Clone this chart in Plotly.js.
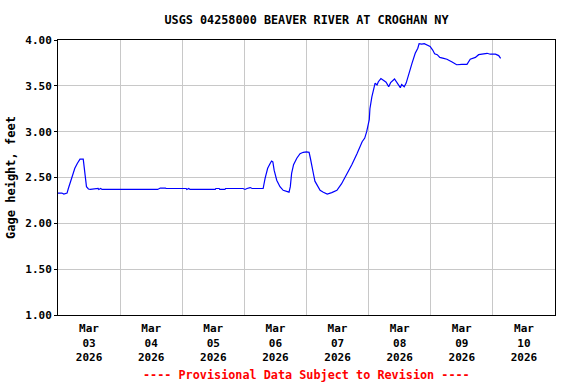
<!DOCTYPE html>
<html>
<head>
<meta charset="utf-8">
<script src="https://cdn.plot.ly/plotly-3.0.1.min.js"></script>
<style>html,body{margin:0;padding:0;background:#fff;}#chart{width:576px;height:384px;}</style>
</head>
<body>
<div id="chart"></div>
<script>
var chartTitle = "USGS 04258000 BEAVER RIVER AT CROGHAN NY";
var yTitle = "Gage height, feet";
var footerText = "---- Provisional Data Subject to Revision ----";

var times = [
"2026-03-03 00:00","2026-03-03 01:30","2026-03-03 02:15","2026-03-03 03:30","2026-03-03 04:00",
"2026-03-03 05:15","2026-03-03 06:30","2026-03-03 07:30","2026-03-03 08:30","2026-03-03 09:45",
"2026-03-03 10:30","2026-03-03 11:00","2026-03-03 11:45","2026-03-03 12:30","2026-03-03 15:30",
"2026-03-03 15:45","2026-03-03 16:30","2026-03-03 17:00","2026-03-04 14:30","2026-03-04 15:30",
"2026-03-04 17:30","2026-03-04 17:45","2026-03-05 01:30","2026-03-05 01:45","2026-03-05 02:30",
"2026-03-05 03:00","2026-03-05 12:45","2026-03-05 13:00","2026-03-05 14:15","2026-03-05 14:30",
"2026-03-05 16:30","2026-03-05 16:45","2026-03-05 23:30","2026-03-06 00:15","2026-03-06 01:00",
"2026-03-06 02:15","2026-03-06 03:00","2026-03-06 07:15","2026-03-06 08:00","2026-03-06 09:00",
"2026-03-06 10:00","2026-03-06 10:30","2026-03-06 11:00","2026-03-06 11:30","2026-03-06 12:30",
"2026-03-06 13:45","2026-03-06 15:00","2026-03-06 16:30","2026-03-06 17:15","2026-03-06 17:45",
"2026-03-06 18:15","2026-03-06 19:00","2026-03-06 20:15","2026-03-06 21:30","2026-03-06 22:45",
"2026-03-07 00:00","2026-03-07 01:00","2026-03-07 01:30","2026-03-07 02:00","2026-03-07 02:45",
"2026-03-07 03:15","2026-03-07 04:15","2026-03-07 05:15","2026-03-07 06:30","2026-03-07 08:00",
"2026-03-07 09:45","2026-03-07 11:45","2026-03-07 13:30","2026-03-07 15:30","2026-03-07 17:30",
"2026-03-07 19:30","2026-03-07 21:30","2026-03-07 22:30","2026-03-07 23:15","2026-03-08 00:15",
"2026-03-08 00:30","2026-03-08 01:15","2026-03-08 02:00","2026-03-08 02:30","2026-03-08 03:15",
"2026-03-08 03:45","2026-03-08 04:45","2026-03-08 05:45","2026-03-08 06:45","2026-03-08 07:45",
"2026-03-08 08:30","2026-03-08 10:00","2026-03-08 11:00","2026-03-08 12:15","2026-03-08 12:45",
"2026-03-08 13:45","2026-03-08 14:30","2026-03-08 15:30","2026-03-08 16:45","2026-03-08 18:00",
"2026-03-08 19:00","2026-03-08 19:30","2026-03-08 20:30","2026-03-08 21:30","2026-03-08 22:30",
"2026-03-08 23:45","2026-03-09 00:45","2026-03-09 01:30","2026-03-09 02:30","2026-03-09 03:30",
"2026-03-09 05:00","2026-03-09 06:15","2026-03-09 08:15","2026-03-09 10:00","2026-03-09 12:00",
"2026-03-09 14:00","2026-03-09 15:15","2026-03-09 17:15","2026-03-09 18:30","2026-03-09 20:30",
"2026-03-09 21:45","2026-03-09 23:00","2026-03-10 01:00","2026-03-10 02:15","2026-03-10 03:00"
];

var gageHeight = [
2.33,2.33,2.32,2.33,2.38,
2.49,2.60,2.655,2.70,2.70,
2.51,2.40,2.375,2.37,2.38,
2.37,2.38,2.37,2.37,2.385,
2.385,2.38,2.38,2.37,2.38,
2.37,2.37,2.38,2.38,2.37,
2.37,2.38,2.38,2.37,2.38,
2.39,2.38,2.38,2.49,2.60,
2.655,2.68,2.67,2.58,2.47,
2.40,2.36,2.345,2.34,2.40,
2.545,2.64,2.71,2.76,2.775,
2.78,2.775,2.71,2.62,2.53,
2.46,2.41,2.36,2.34,2.32,
2.335,2.36,2.43,2.53,2.64,
2.76,2.89,2.93,3.00,3.13,
3.25,3.38,3.47,3.53,3.51,
3.545,3.58,3.556,3.54,3.49,
3.535,3.575,3.53,3.48,3.515,
3.49,3.53,3.64,3.745,3.855,
3.91,3.96,3.955,3.96,3.945,
3.93,3.89,3.85,3.84,3.81,
3.80,3.79,3.76,3.73,3.735,
3.735,3.79,3.81,3.84,3.845,
3.855,3.845,3.845,3.83,3.80
];

var tickDates = ["2026-03-03 12:00","2026-03-04 12:00","2026-03-05 12:00","2026-03-06 12:00",
                 "2026-03-07 12:00","2026-03-08 12:00","2026-03-09 12:00","2026-03-10 12:00"];
var tickText = ["Mar<br>03<br>2026","Mar<br>04<br>2026","Mar<br>05<br>2026","Mar<br>06<br>2026",
                "Mar<br>07<br>2026","Mar<br>08<br>2026","Mar<br>09<br>2026","Mar<br>10<br>2026"];
var xRange = ["2026-03-03 00:00","2026-03-11 00:00"];
var yRange = [1, 4];
var yTicks = [1.0, 1.5, 2.0, 2.5, 3.0, 3.5, 4.0];

var fontFam = "DejaVu Sans Mono";
var gridCol = "#c8c8c8";

var trace = {
  x: times, y: gageHeight, type: "scatter", mode: "lines",
  line: {color: "#0000ff", width: 1.2, shape: "linear"},
  hoverinfo: "skip"
};

var layout = {
  width: 576, height: 384,
  margin: {l: 58, r: 21, t: 40, b: 69},
  paper_bgcolor: "#ffffff", plot_bgcolor: "#ffffff",
  showlegend: false,
  font: {family: fontFam, size: 11, color: "#000", weight: "bold"},
  title: {text: chartTitle, x: 0.5, xref: "paper", xanchor: "center",
          y: 1 - 20/384, yref: "container", yanchor: "middle",
          font: {family: fontFam, size: 11.8, color: "#000", weight: "bold"}},
  xaxis: {
    type: "date", range: xRange,
    tickmode: "array", tickvals: tickDates, ticktext: tickText,
    ticks: "", showgrid: false, zeroline: false, ticklabelstandoff: 3,
    showline: true, linecolor: "#000", linewidth: 1, mirror: true,
    tickfont: {family: fontFam, size: 11, color: "#000", weight: "bold"},
    minor: {tick0: "2026-03-03", dtick: 86400000, showgrid: true, gridcolor: gridCol, gridwidth: 1, ticks: ""}
  },
  yaxis: {
    range: yRange, tickmode: "array", tickvals: yTicks, tickformat: ".2f",
    ticks: "outside", ticklen: 3, tickcolor: "#000", tickwidth: 1,
    showgrid: true, gridcolor: gridCol, gridwidth: 1, zeroline: false,
    showline: true, linecolor: "#000", linewidth: 1, mirror: true,
    tickfont: {family: fontFam, size: 11, color: "#000", weight: "bold"},
    title: {text: yTitle, standoff: 7, font: {family: fontFam, size: 12, color: "#000", weight: "bold"}}
  },
  annotations: [{
    text: footerText, xref: "paper", yref: "paper", x: 0.5, y: -0.218,
    xanchor: "center", yanchor: "middle", showarrow: false,
    font: {family: fontFam, size: 11.8, color: "#ff0000", weight: "bold"}
  }]
};

Plotly.newPlot("chart", [trace], layout, {displayModeBar: false, staticPlot: true});
</script>
</body>
</html>
